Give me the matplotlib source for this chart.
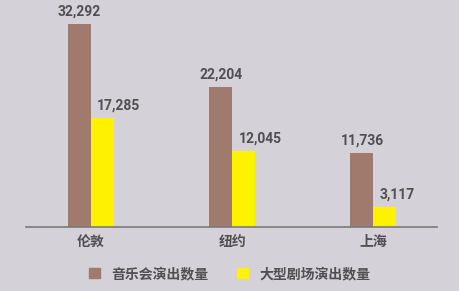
import matplotlib.pyplot as plt
from matplotlib.patches import Patch
import numpy as np

# 数据
cities = ['伦敦', '纽约', '上海']
concerts = [32292, 22204, 11736]
theatre = [17285, 12045, 3117]
series_names = ['音乐会演出数量', '大型剧场演出数量']

bg = '#d5d1d9'
brown = '#a07b6d'
yellow = '#fff200'
txt = '#505050'

plt.rcParams['font.family'] = ['Noto Sans CJK SC', 'DejaVu Sans']

fig = plt.figure(figsize=(4.6, 2.91), dpi=100, facecolor=bg)
ax = fig.add_axes([26 / 460, 64 / 291, 411 / 460, 217 / 291])
ax.set_facecolor(bg)

x = np.arange(len(cities))
w = 0.163
b1 = ax.bar(x - w / 2, concerts, w, color=brown)
b2 = ax.bar(x + w / 2, theatre, w, color=yellow)

# 数值标签
for r, v in zip(b1, concerts):
    ax.annotate(f'{v:,}', (r.get_x() + r.get_width() / 2, v), xytext=(0, 4),
                textcoords='offset points', ha='center', va='bottom',
                fontsize=10, fontweight='bold', color=txt, family='Roboto')
for r, v in zip(b2, theatre):
    ax.annotate(f'{v:,}', (r.get_x(), v), xytext=(4.5, 4),
                textcoords='offset points', ha='left', va='bottom',
                fontsize=10, fontweight='bold', color=txt, family='Roboto')

ax.set_xlim(-0.46, 2.45)
ax.set_ylim(0, 34520)
ax.set_xticks(x)
ax.set_xticklabels(cities, fontsize=10, fontweight='bold', color=txt)
ax.tick_params(axis='x', length=0, pad=6)
ax.set_yticks([])
for s in ['top', 'right', 'left']:
    ax.spines[s].set_visible(False)
ax.spines['bottom'].set_color('#7a7a7a')
ax.spines['bottom'].set_linewidth(1.2)

handles = [Patch(color=brown), Patch(color=yellow)]
fig.legend(handles, series_names, loc='center', bbox_to_anchor=(229.5 / 460, 17 / 291),
           ncol=2, frameon=False, handlelength=0.8, handleheight=0.8,
           handletextpad=0.8, columnspacing=2.1,
           prop={'size': 10, 'weight': 'bold'}, labelcolor=txt)

plt.savefig('out.png', dpi=100, facecolor=bg)
